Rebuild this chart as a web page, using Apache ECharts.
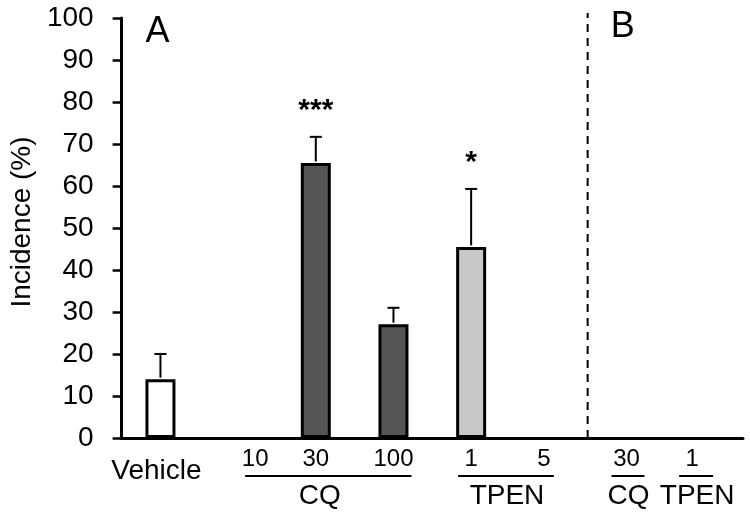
<!DOCTYPE html>
<html><head><meta charset="utf-8">
<script src="https://cdn.jsdelivr.net/npm/echarts@6/dist/echarts.min.js"></script>
<style>html,body{margin:0;padding:0;background:#fff}#c{width:750px;height:516px}</style>
</head><body><div id="c"></div>
<script>
// ---- data ----
const categories = ['Vehicle', 'CQ 10', 'CQ 30', 'CQ 100', 'TPEN 1', 'TPEN 5', 'B CQ 30', 'B TPEN 1'];
const tickLabels = ['Vehicle', '10', '30', '100', '1', '5', '30', '1'];
const treatment = ['Vehicle', 'CQ', 'CQ', 'CQ', 'TPEN', 'TPEN', 'CQ', 'TPEN'];
const incidence = [14, 0, 65.5, 27.1, 45.5, 0, 0, 0];
const errorPlus = [6, 0, 6.2, 3.9, 13.8, 0, 0, 0];
const significance = ['', '', '***', '', '*', '', '', ''];
const groupNames = ['CQ', 'TPEN', 'CQ', 'TPEN'];
const groupFirst = [1, 4, 6, 7];
const groupLast = [3, 5, 6, 7];
const panelNames = ['A', 'B'];
const panelFirst = [0, 6];
const yMin = 0, yMax = 100, yStep = 10;

// ---- styles ----
const FONT = 'Liberation Sans, Arial, sans-serif';
const fillOf = { Vehicle: '#ffffff', CQ: '#555555', TPEN: '#c8c8c8' };
const labelRich = ['veh', 'n10', 'n', 'n', 'n', 'n5', 'n', 'nb1'];
const groupLineOff = [[7, 18], [-13, 5], [-15, 18], [-25, 9]];
const groupTextOff = [4, -3, 2, -7];

const chart = echarts.init(document.getElementById('c'), null, { renderer: 'canvas' });

const option = {
  animation: false,
  backgroundColor: '#ffffff',
  textStyle: { fontFamily: FONT },
  grid: { left: 116, right: 7, top: 18, bottom: 78, containLabel: false },
  xAxis: {
    type: 'category',
    data: categories,
    axisLine: { show: true, lineStyle: { color: '#000', width: 3 } },
    axisTick: { show: false },
    axisLabel: {
      interval: 0, margin: 9, color: '#000', fontFamily: FONT,
      formatter: (v, i) => '{' + labelRich[i] + '|' + tickLabels[i] + '}',
      rich: {
        veh: { fontSize: 28, fontFamily: FONT, color: '#000', padding: [10, 8, 0, 0] },
        n: { fontSize: 24, fontFamily: FONT, color: '#000' },
        n10: { fontSize: 24, fontFamily: FONT, color: '#000', padding: [0, 0, 0, 34] },
        n5: { fontSize: 24, fontFamily: FONT, color: '#000', padding: [0, 10, 0, 0] },
        nb1: { fontSize: 24, fontFamily: FONT, color: '#000', padding: [0, 24, 0, 0] }
      }
    },
    splitLine: { show: false }
  },
  yAxis: {
    type: 'value', min: yMin, max: yMax, interval: yStep,
    name: 'Incidence (%)', nameLocation: 'middle', nameGap: 80, nameRotate: 90,
    nameTextStyle: { fontSize: 28, color: '#000', fontFamily: FONT, padding: [0, 0, 0, 12] },
    axisLine: { show: true, lineStyle: { color: '#000', width: 3 } },
    axisTick: { show: true, inside: false, length: 9, lineStyle: { color: '#000', width: 2.5 } },
    axisLabel: { fontSize: 28, color: '#000', fontFamily: FONT, margin: 28 },
    splitLine: { show: false }
  },
  series: [
    {
      type: 'bar',
      barWidth: 30,
      data: incidence.map((v, i) => ({
        value: v,
        itemStyle: { color: fillOf[treatment[i]], borderColor: '#000', borderWidth: v > 0 ? 3 : 0 }
      })),
      z: 2
    },
    {
      type: 'custom',
      z: 3,
      data: incidence.map((v, i) => [i, v, errorPlus[i]]),
      renderItem: function (params, api) {
        const i = api.value(0), v = api.value(1), e = api.value(2);
        if (!e) return null;
        const p0 = api.coord([i, v]);
        const p1 = api.coord([i, v + e]);
        return {
          type: 'group',
          children: [
            { type: 'line', shape: { x1: p0[0], y1: p0[1] - 1.5, x2: p1[0], y2: p1[1] }, style: { stroke: '#000', lineWidth: 2 } },
            { type: 'line', shape: { x1: p1[0] - 6, y1: p1[1], x2: p1[0] + 6, y2: p1[1] }, style: { stroke: '#000', lineWidth: 2 } }
          ]
        };
      }
    },
    {
      type: 'custom',
      z: 3,
      data: incidence.map((v, i) => [i, v + errorPlus[i]]),
      renderItem: function (params, api) {
        const i = api.value(0);
        const s = significance[i];
        if (!s) return null;
        const p = api.coord([i, api.value(1)]);
        return {
          type: 'text',
          style: { text: s, x: p[0], y: p[1] - 26, align: 'center', verticalAlign: 'middle', fontSize: 30, fontWeight: 'bold', fontFamily: FONT, fill: '#000' }
        };
      }
    },
    {
      type: 'custom',
      z: 1,
      data: [[panelFirst[1], yMax]],
      renderItem: function (params, api) {
        const i = api.value(0);
        const c = api.coord([i, yMin]);
        const t = api.coord([i, api.value(1)]);
        const half = api.size([1, 0])[0] / 2;
        const x = c[0] - half;
        return {
          type: 'line',
          shape: { x1: x, y1: c[1], x2: x, y2: t[1] - 5 },
          style: { stroke: '#000', lineWidth: 2, lineDash: [8, 6] }
        };
      }
    }
  ]
};
chart.setOption(option);

function px(i) { return chart.convertToPixel({ xAxisIndex: 0 }, i); }
function py(v) { return chart.convertToPixel({ yAxisIndex: 0 }, v); }
const half = (px(1) - px(0)) / 2;
const base = py(0);
const gfx = [];
groupNames.forEach((g, k) => {
  const x1 = px(groupFirst[k]) + groupLineOff[k][0];
  const x2 = px(groupLast[k]) + groupLineOff[k][1];
  gfx.push({ type: 'line', shape: { x1: x1, y1: base + 38, x2: x2, y2: base + 38 }, style: { stroke: '#000', lineWidth: 2 } });
  const cx = (px(groupFirst[k]) + px(groupLast[k])) / 2 + groupTextOff[k];
  gfx.push({ type: 'text', x: cx, y: base + 58, style: { text: g, align: 'center', verticalAlign: 'middle', fontSize: 28, fontFamily: FONT, fill: '#000' } });
});
gfx.push({ type: 'text', x: px(panelFirst[0]) - 3, y: py(yMax) + 14, style: { text: panelNames[0], align: 'center', verticalAlign: 'middle', fontSize: 36, fontFamily: FONT, fill: '#000' } });
gfx.push({ type: 'text', x: px(panelFirst[1]) - half + 35, y: py(yMax) + 9, style: { text: panelNames[1], align: 'center', verticalAlign: 'middle', fontSize: 36, fontFamily: FONT, fill: '#000' } });
chart.setOption({ graphic: gfx });
</script>
</body></html>
